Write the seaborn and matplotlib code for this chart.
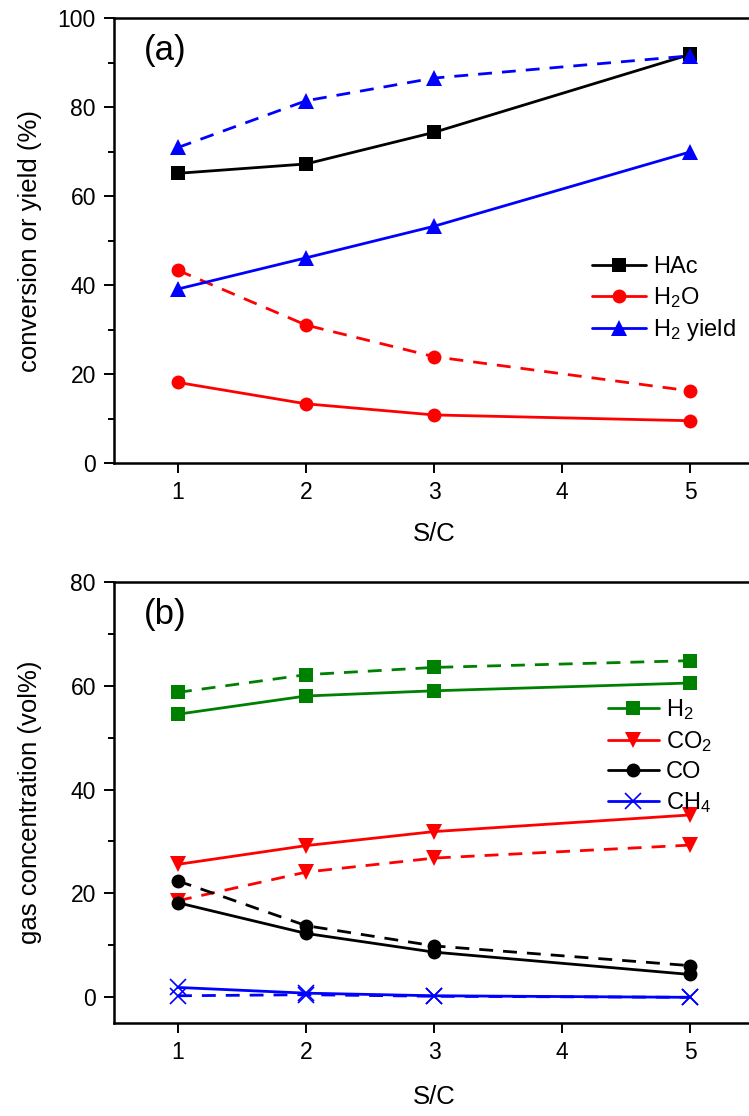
import numpy as np
import pandas as pd
import seaborn as sns
import matplotlib
matplotlib.use("Agg")
import matplotlib.pyplot as plt
from matplotlib.ticker import MultipleLocator
from matplotlib.lines import Line2D

sns.set_style("ticks")
plt.rcParams['font.family'] = ['Liberation Sans', 'DejaVu Sans']
plt.rcParams['mathtext.fontset'] = 'custom'
plt.rcParams['mathtext.rm'] = 'Liberation Sans'
plt.rcParams['mathtext.it'] = 'Liberation Sans:italic'
plt.rcParams['text.color'] = 'black'
plt.rcParams['axes.labelcolor'] = 'black'
plt.rcParams['xtick.color'] = 'black'
plt.rcParams['ytick.color'] = 'black'

# ---------------- data ----------------
sc = [1, 2, 3, 5]

# panel (a): solid and dashed series
hac_solid = [65.1, 67.2, 74.3, 91.8]
h2o_solid = [18.1, 13.3, 10.8, 9.5]
h2o_dashed = [43.3, 31.0, 23.9, 16.2]
h2y_solid = [39.1, 46.1, 53.2, 69.9]
h2y_dashed = [70.9, 81.4, 86.5, 91.5]

# panel (b)
h2_solid = [54.5, 58.0, 59.0, 60.5]
h2_dashed = [58.7, 62.1, 63.5, 64.8]
co2_solid = [25.6, 29.2, 31.9, 35.1]
co2_dashed = [18.6, 24.1, 26.8, 29.3]
co_solid = [18.2, 12.3, 8.7, 4.4]
co_dashed = [22.4, 13.8, 9.9, 6.1]
ch4_solid = [1.9, 0.8, 0.3, 0.0]
ch4_dashed = [0.3, 0.5, 0.2, 0.0]

labels_a = ['HAc', r'H$_\mathregular{2}$O', r'H$_\mathregular{2}$ yield']
labels_b = [r'H$_\mathregular{2}$', r'CO$_\mathregular{2}$', 'CO', r'CH$_\mathregular{4}$']
xticks = [1, 2, 3, 4, 5]

BLACK, RED, BLUE, GREEN = '#000000', '#FF0000', '#0000FF', '#008000'
LW = 2.0
DASH = (5, 3.6)
MS = {'s': 9.5, 'o': 10, '^': 11, 'v': 11, 'x': 11}

fig = plt.figure(figsize=(7.49, 11.16), dpi=100)
axA = fig.add_axes([114/749, 1-463/1116, 640/749, 445/1116])
axB = fig.add_axes([114/749, 1-1023.3/1116, 640/749, 441.6/1116])


def draw(ax, y, color, marker, dashed):
    df = pd.DataFrame({'x': sc, 'y': y})
    mew = 1.2 if marker == 'x' else 0.0
    kw = dict(color=color, marker=marker, markersize=MS[marker], linewidth=LW,
              markeredgecolor=color, markeredgewidth=mew)
    if dashed:
        kw['dashes'] = [DASH]
        kw['style'] = ['d'] * len(sc)
    sns.lineplot(data=df, x='x', y='y', ax=ax, legend=False, **kw)


def handle(color, marker):
    return Line2D([], [], color=color, marker=marker, ms=MS[marker], lw=LW,
                  mec=color, mew=1.2 if marker == 'x' else 0)


# ---- panel (a)
draw(axA, hac_solid, BLACK, 's', False)
draw(axA, h2o_dashed, RED, 'o', True)
draw(axA, h2o_solid, RED, 'o', False)
draw(axA, h2y_dashed, BLUE, '^', True)
draw(axA, h2y_solid, BLUE, '^', False)

# ---- panel (b)
draw(axB, h2_dashed, GREEN, 's', True)
draw(axB, h2_solid, GREEN, 's', False)
draw(axB, co2_dashed, RED, 'v', True)
draw(axB, co2_solid, RED, 'v', False)
draw(axB, co_dashed, BLACK, 'o', True)
draw(axB, co_solid, BLACK, 'o', False)
draw(axB, ch4_dashed, BLUE, 'x', True)
draw(axB, ch4_solid, BLUE, 'x', False)

hA = [handle(BLACK, 's'), handle(RED, 'o'), handle(BLUE, '^')]
hB = [handle(GREEN, 's'), handle(RED, 'v'), handle(BLACK, 'o'), handle(BLUE, 'x')]

axA.legend(hA, labels_a, loc='upper left', bbox_to_anchor=(0.747, 0.465),
           frameon=False, fontsize=17, handlelength=2.3, handletextpad=0.3,
           labelspacing=0.3, borderpad=0, borderaxespad=0)
axB.legend(hB, labels_b, loc='upper left', bbox_to_anchor=(0.772, 0.738),
           frameon=False, fontsize=17, handlelength=2.15, handletextpad=0.3,
           labelspacing=0.3, borderpad=0, borderaxespad=0)

for ax, ylim, ylab, tag in [(axA, (0, 100), 'conversion or yield (%)', '(a)'),
                            (axB, (-5, 80), 'gas concentration (vol%)', '(b)')]:
    ax.set_xlim(0.5, 5.5)
    ax.set_ylim(*ylim)
    ax.set_xticks(xticks)
    ax.set_xticklabels([str(t) for t in xticks])
    ax.yaxis.set_major_locator(MultipleLocator(20))
    ax.yaxis.set_minor_locator(MultipleLocator(10))
    ax.tick_params(axis='both', which='major', direction='out', length=7, width=1.4,
                   labelsize=16.5, pad=6, color='black')
    ax.tick_params(axis='y', which='minor', direction='out', length=4, width=1.4)
    ax.set_xlabel('S/C', fontsize=18.5)
    ax.set_ylabel(ylab, fontsize=18.5)
    ax.yaxis.set_label_coords(-0.1125, 0.5)
    for s in ax.spines.values():
        s.set_linewidth(1.8)
        s.set_color('black')
    ax.text(0.08, 0.926, tag, transform=ax.transAxes, fontsize=25,
            ha='center', va='center')

axA.xaxis.set_label_coords(0.5, -0.133)
axB.xaxis.set_label_coords(0.5, -0.14)

fig.savefig('out.png', dpi=100)
